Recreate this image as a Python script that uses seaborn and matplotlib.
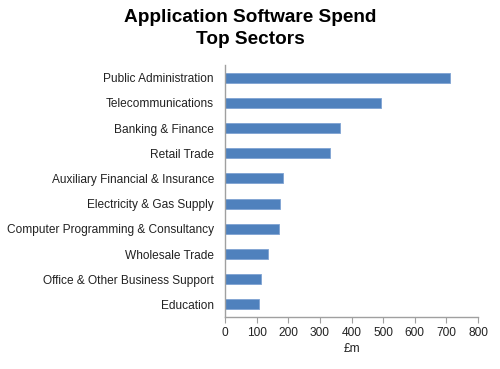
import matplotlib
matplotlib.use("Agg")
import matplotlib.pyplot as plt
import seaborn as sns
import pandas as pd

sectors = ["Public Administration", "Telecommunications", "Banking & Finance",
           "Retail Trade", "Auxiliary Financial & Insurance", "Electricity & Gas Supply",
           "Computer Programming & Consultancy", "Wholesale Trade",
           "Office & Other Business Support", "Education"]
spend = [712, 494, 363, 331, 183, 175, 170, 135, 115, 109]
xticks = [0, 100, 200, 300, 400, 500, 600, 700, 800]

df = pd.DataFrame({"sector": sectors, "spend": spend})

sns.set_theme(style="white")
plt.rcParams["font.family"] = ["Liberation Sans", "DejaVu Sans"]

fig = plt.figure(figsize=(5.0, 3.69), dpi=100)
ax = fig.add_axes([0.45, 1 - 317 / 369, (478 - 225) / 500, (317 - 65) / 369])

sns.barplot(data=df, y="sector", x="spend", orient="h", color="#4F81BD",
            width=0.4, edgecolor="#7FA3D3", linewidth=0.6, ax=ax, saturation=1)

ax.set_xlim(0, 800)
ax.set_xticks(xticks)
ax.set_xticklabels([str(t) for t in xticks], fontsize=8.6, color="#222222")
ax.set_yticks(range(len(sectors)))
ax.set_yticklabels(sectors, fontsize=8.6, color="#222222")
ax.set_ylim(len(sectors) - 0.5, -0.5)
ax.set_ylabel("")
ax.set_xlabel("£m", fontsize=8.6, color="#222222", labelpad=3)

for s in ["top", "right"]:
    ax.spines[s].set_visible(False)
for s in ["left", "bottom"]:
    ax.spines[s].set_color("#A0A0A0")
    ax.spines[s].set_linewidth(1.0)
ax.tick_params(axis="x", which="major", bottom=True, length=4, width=0.8,
               color="#A0A0A0", pad=3)
ax.tick_params(axis="y", left=False, pad=2)

fig.text(0.5, 1 - 17 / 369, "Application Software Spend", ha="center", va="center",
         fontsize=13.7, fontweight="bold", color="black")
fig.text(0.5, 1 - 40 / 369, "Top Sectors", ha="center", va="center",
         fontsize=13.7, fontweight="bold", color="black")

fig.savefig("out.png", dpi=100)
